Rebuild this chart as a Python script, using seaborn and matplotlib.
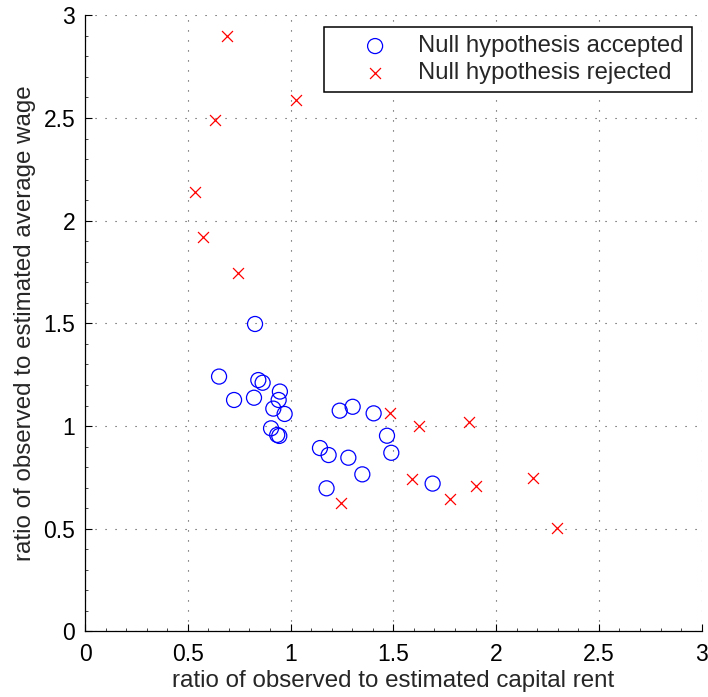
import matplotlib
matplotlib.use("Agg")
import matplotlib.pyplot as plt
from matplotlib.ticker import MultipleLocator
import seaborn as sns
import pandas as pd

# Null hypothesis accepted (circles)
acc_x = [0.827, 0.652, 0.843, 0.864, 0.948, 0.725, 0.822, 0.942, 0.916, 0.971,
         0.905, 0.935, 0.945, 1.239, 1.302, 1.404, 1.469, 1.490, 1.143, 1.185,
         1.281, 1.349, 1.175, 1.691]
acc_y = [1.497, 1.241, 1.224, 1.211, 1.168, 1.127, 1.138, 1.127, 1.085, 1.059,
         0.989, 0.957, 0.952, 1.075, 1.094, 1.062, 0.953, 0.870, 0.893, 0.859,
         0.846, 0.765, 0.697, 0.720]

# Null hypothesis rejected (crosses)
rej_x = [0.692, 1.026, 0.632, 0.537, 0.576, 0.746, 1.483, 1.623, 1.592, 1.245,
         1.868, 1.900, 1.774, 2.181, 2.297]
rej_y = [2.899, 2.588, 2.490, 2.138, 1.922, 1.747, 1.062, 1.002, 0.741, 0.624,
         1.020, 0.708, 0.644, 0.746, 0.502]

ticks = [0, 0.5, 1, 1.5, 2, 2.5, 3]
tick_labels = ["0", "0.5", "1", "1.5", "2", "2.5", "3"]

sns.set_style("white")
plt.rcParams["font.family"] = ["Liberation Sans", "DejaVu Sans"]

df_acc = pd.DataFrame({"x": acc_x, "y": acc_y})
df_rej = pd.DataFrame({"x": rej_x, "y": rej_y})

fig = plt.figure(figsize=(7.08, 6.97), dpi=100)
ax = fig.add_axes([0.1201, 0.0940, 0.8710, 0.8841])

sns.scatterplot(data=df_acc, x="x", y="y", ax=ax, marker="o", s=117,
                facecolors="none", edgecolors="#0000ff", linewidths=0.9,
                label="Null hypothesis accepted", zorder=3)
sns.scatterplot(data=df_rej, x="x", y="y", ax=ax, marker="x", s=62,
                color="#ff0000", linewidths=0.9,
                label="Null hypothesis rejected", zorder=3)

ax.set_xlim(0, 3)
ax.set_ylim(0, 3)
ax.set_xticks(ticks)
ax.set_xticklabels(tick_labels)
ax.set_yticks(ticks)
ax.set_yticklabels(tick_labels)
ax.xaxis.set_minor_locator(MultipleLocator(0.1))
ax.yaxis.set_minor_locator(MultipleLocator(0.1))
ax.tick_params(which="major", direction="in", length=5, width=0.8,
               labelsize=16.5, colors="black", bottom=True, left=True)
ax.tick_params(axis="x", which="major", pad=8)
ax.tick_params(axis="y", which="major", pad=7)
ax.tick_params(which="minor", direction="in", length=2.5, width=0.6,
               bottom=True, left=True)

ax.grid(True, which="major", color="#444444", linewidth=0.8,
        linestyle=(0, (1, 8)))
ax.set_axisbelow(True)

for side in ["top", "right"]:
    ax.spines[side].set_visible(False)
for side in ["left", "bottom"]:
    ax.spines[side].set_color("black")
    ax.spines[side].set_linewidth(0.9)

ax.set_xlabel("ratio of observed to estimated capital rent", fontsize=17.4,
              labelpad=3)
ax.set_ylabel("ratio of observed to estimated average wage", fontsize=17.4,
              labelpad=5)

leg = ax.legend(loc="upper right", bbox_to_anchor=(0.984, 0.981),
                fontsize=17.2, frameon=True, fancybox=False, edgecolor="black",
                framealpha=1, borderpad=0.35, handletextpad=0.0,
                handlelength=3.6, labelspacing=0.2, borderaxespad=0)
leg.get_frame().set_linewidth(1.1)

fig.savefig("out.png", dpi=100)
